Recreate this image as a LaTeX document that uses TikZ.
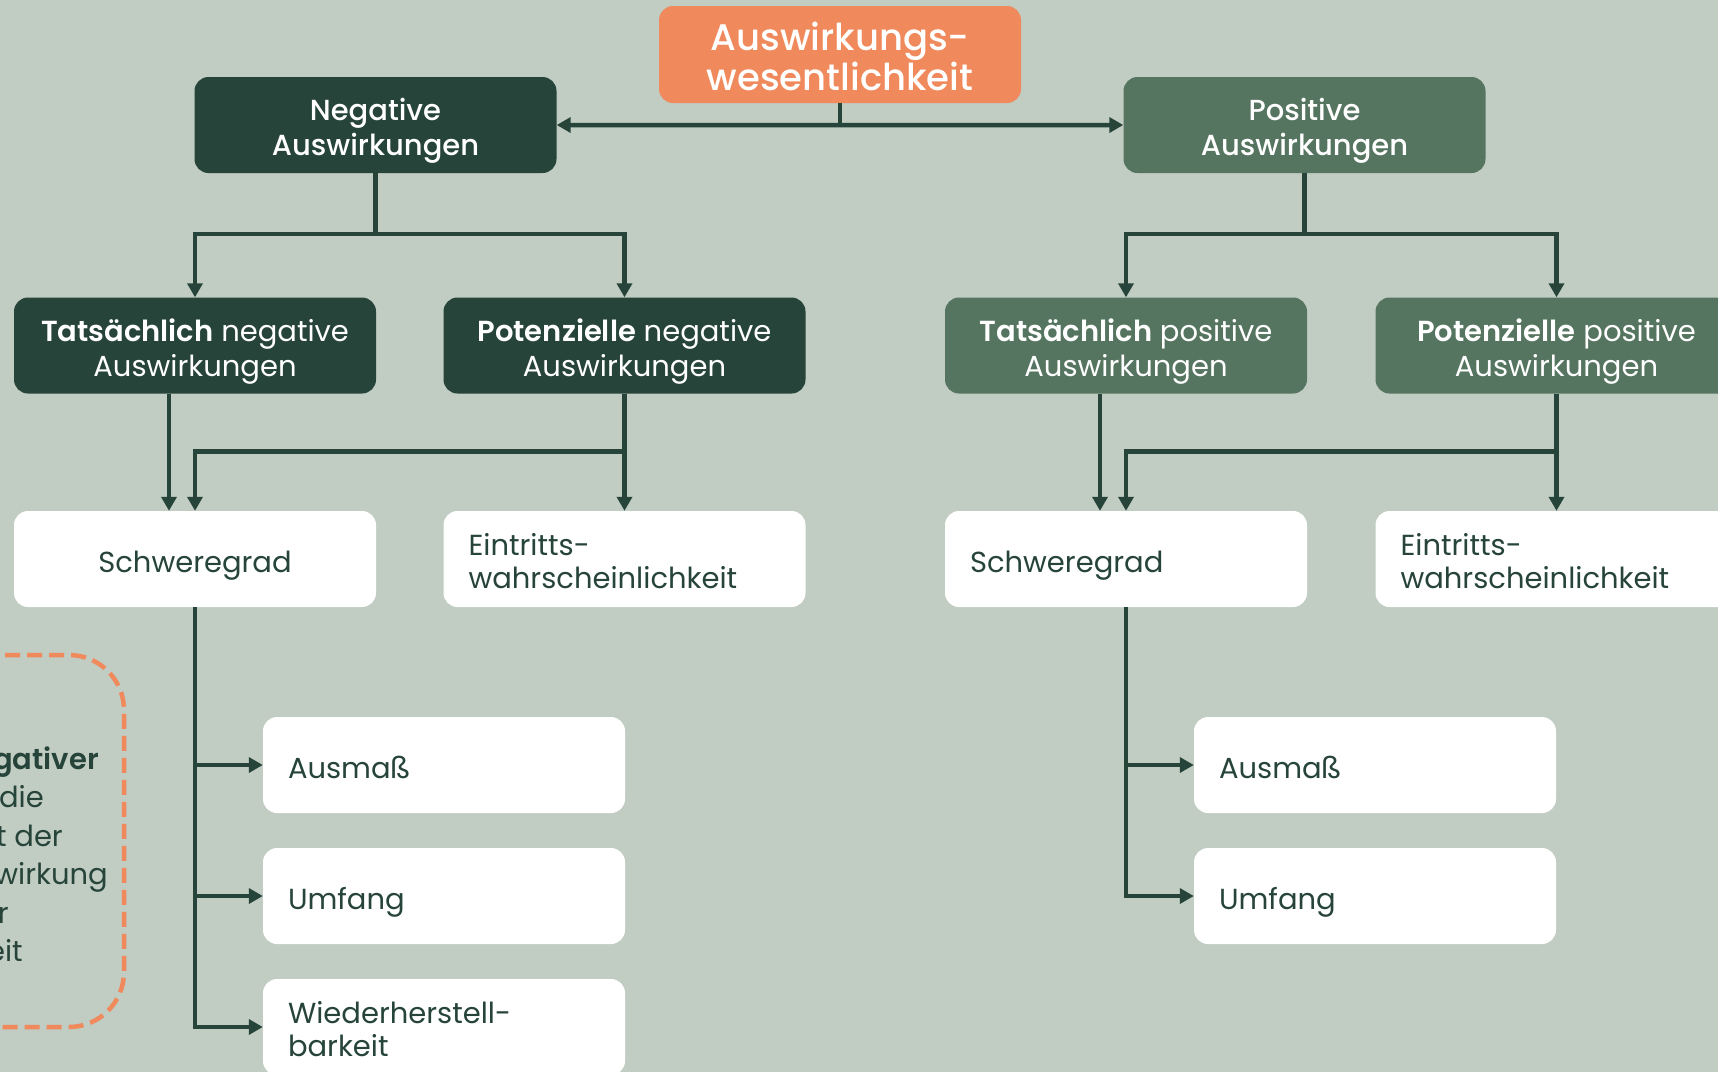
\documentclass[tikz,border=0pt]{standalone}
\usepackage{fontspec}
\setmainfont{Poppins}[BoldFont={Poppins SemiBold}]
\newfontfamily\headfont{Poppins Medium}
\usetikzlibrary{arrows.meta}
\definecolor{bgsage}{HTML}{C1CCC2}
\definecolor{deepgreen}{HTML}{26443A}
\definecolor{midgreen}{HTML}{557560}
\definecolor{coral}{HTML}{F08A5D}
\tikzset{
  box/.style={rectangle, rounded corners=14pt, minimum width=362pt, minimum height=96pt,
    inner sep=0pt, font=\fontsize{29}{35}\selectfont, text depth=0pt},
  % text heights: cap height + further baselines + offset, so the lines sit centred
  oneline/.style={text height=26.3pt},
  twolines/.style={text height=61.3pt},
  twolinesw/.style={text height=26.3pt, text depth=33.3pt, font=\fontsize{29}{33.3}\selectfont},
  darkbox/.style={box, twolines, fill=deepgreen, text=white, align=center},
  midbox/.style={box, twolines, fill=midgreen, text=white, align=center},
  headbox/.style={font=\headfont\fontsize{29}{35}\selectfont},
  whitebox/.style={box, fill=white, text=deepgreen, align=left, text width=312pt},
  centerbox/.style={box, oneline, fill=white, text=deepgreen, align=center},
  topbox/.style={box, fill=coral, text=white, align=center,
    font=\headfont\fontsize{37}{38}\selectfont, minimum height=97pt, text height=72pt},
  notetext/.style={anchor=base east, inner sep=0pt, text=deepgreen,
    font=\fontsize{29}{35}\selectfont},
  link/.style={draw=deepgreen, line width=4.5pt},
  arrowlink/.style={link, -{Triangle[length=14pt,width=15pt]}},
}
\begin{document}
\begin{tikzpicture}[x=1pt,y=-1pt]
\fill[bgsage] (0,0) rectangle (1718,1072);
\useasboundingbox (0,0) rectangle (1718,1072);

% top level
\node[topbox] (top) at (840,54.5) {Auswirkungs-\\wesentlichkeit};
\node[darkbox, headbox] (neg) at (375.5,125) {Negative\\Auswirkungen};
\node[midbox, headbox] (pos) at (1304.5,125) {Positive\\Auswirkungen};

% second level
\node[darkbox] (tn) at (195,345.5) {\textbf{Tatsächlich} negative\\Auswirkungen};
\node[darkbox] (pn) at (624.5,345.5) {\textbf{Potenzielle} negative\\Auswirkungen};
\node[midbox] (tp) at (1126,345.5) {\textbf{Tatsächlich} positive\\Auswirkungen};
\node[midbox] (pp) at (1556.5,345.5) {\textbf{Potenzielle} positive\\Auswirkungen};

% criteria
\node[centerbox] (sl) at (195,559) {Schweregrad};
\node[whitebox, twolinesw] (el) at (624.5,559) {Eintritts-\\wahrscheinlichkeit};
\node[whitebox, oneline] (sr) at (1126,559) {Schweregrad};
\node[whitebox, twolinesw] (er) at (1556.5,559) {Eintritts-\\wahrscheinlichkeit};

% severity aspects
\node[whitebox, oneline] (al) at (444,765) {Ausmaß};
\node[whitebox, oneline] (ul) at (444,896) {Umfang};
\node[whitebox, twolinesw] (wl) at (444,1027) {Wiederherstell-\\barkeit};
\node[whitebox, oneline] (ar) at (1375,765) {Ausmaß};
\node[whitebox, oneline] (ur) at (1375,896) {Umfang};

% connectors from the top
\draw[link] (top.south) -- ++(0,22) coordinate (hub);
\draw[arrowlink] (hub) -- (neg.east);
\draw[arrowlink] (hub) -- (pos.west);

\draw[link] (neg.south) -- ++(0,61) coordinate (nj);
\draw[arrowlink] (nj) -| (tn.north);
\draw[arrowlink] (nj) -| (pn.north);
\draw[link] (pos.south) -- ++(0,61) coordinate (pj);
\draw[arrowlink] (pj) -| (tp.north);
\draw[arrowlink] (pj) -| (pp.north);

% second level to criteria
\draw[arrowlink] ([xshift=-26pt]tn.south) -- ([xshift=-26pt]sl.north);
\draw[arrowlink] (pn.south) -- (el.north);
\path (pn.south) ++(0,58) coordinate (pnj);
\draw[arrowlink] (pnj) -| (sl.north);
\draw[arrowlink] ([xshift=-26pt]tp.south) -- ([xshift=-26pt]sr.north);
\draw[arrowlink] (pp.south) -- (er.north);
\path (pp.south) ++(0,58) coordinate (ppj);
\draw[arrowlink] (ppj) -| (sr.north);

% severity branches
\draw[arrowlink] (sl.south) |- (al.west);
\draw[arrowlink] (sl.south) |- (ul.west);
\draw[arrowlink] (sl.south) |- (wl.west);
\draw[arrowlink] (sr.south) |- (ar.west);
\draw[arrowlink] (sr.south) |- (ur.west);

% note frame with its text lines
\draw[coral, line width=4.5pt, dash pattern=on 15pt off 7pt, rounded corners=55pt]
  (-320,655) rectangle (124,1027);
\node[notetext] (note1) at (99,769) {\textbf{Bei potenziell negativer}};
\node[notetext] (note2) at (44,807.5) {Auswirkung hat die};
\node[notetext] (note3) at (63,846) {Intensität der};
\node[notetext] (note4) at (108,884.5) {Menschenrechtsauswirkung};
\node[notetext] (note5) at (9,923) {Vorrang vor ihrer};
\node[notetext] (note6) at (23,961.5) {Wahrscheinlichkeit};
\end{tikzpicture}
\end{document}
